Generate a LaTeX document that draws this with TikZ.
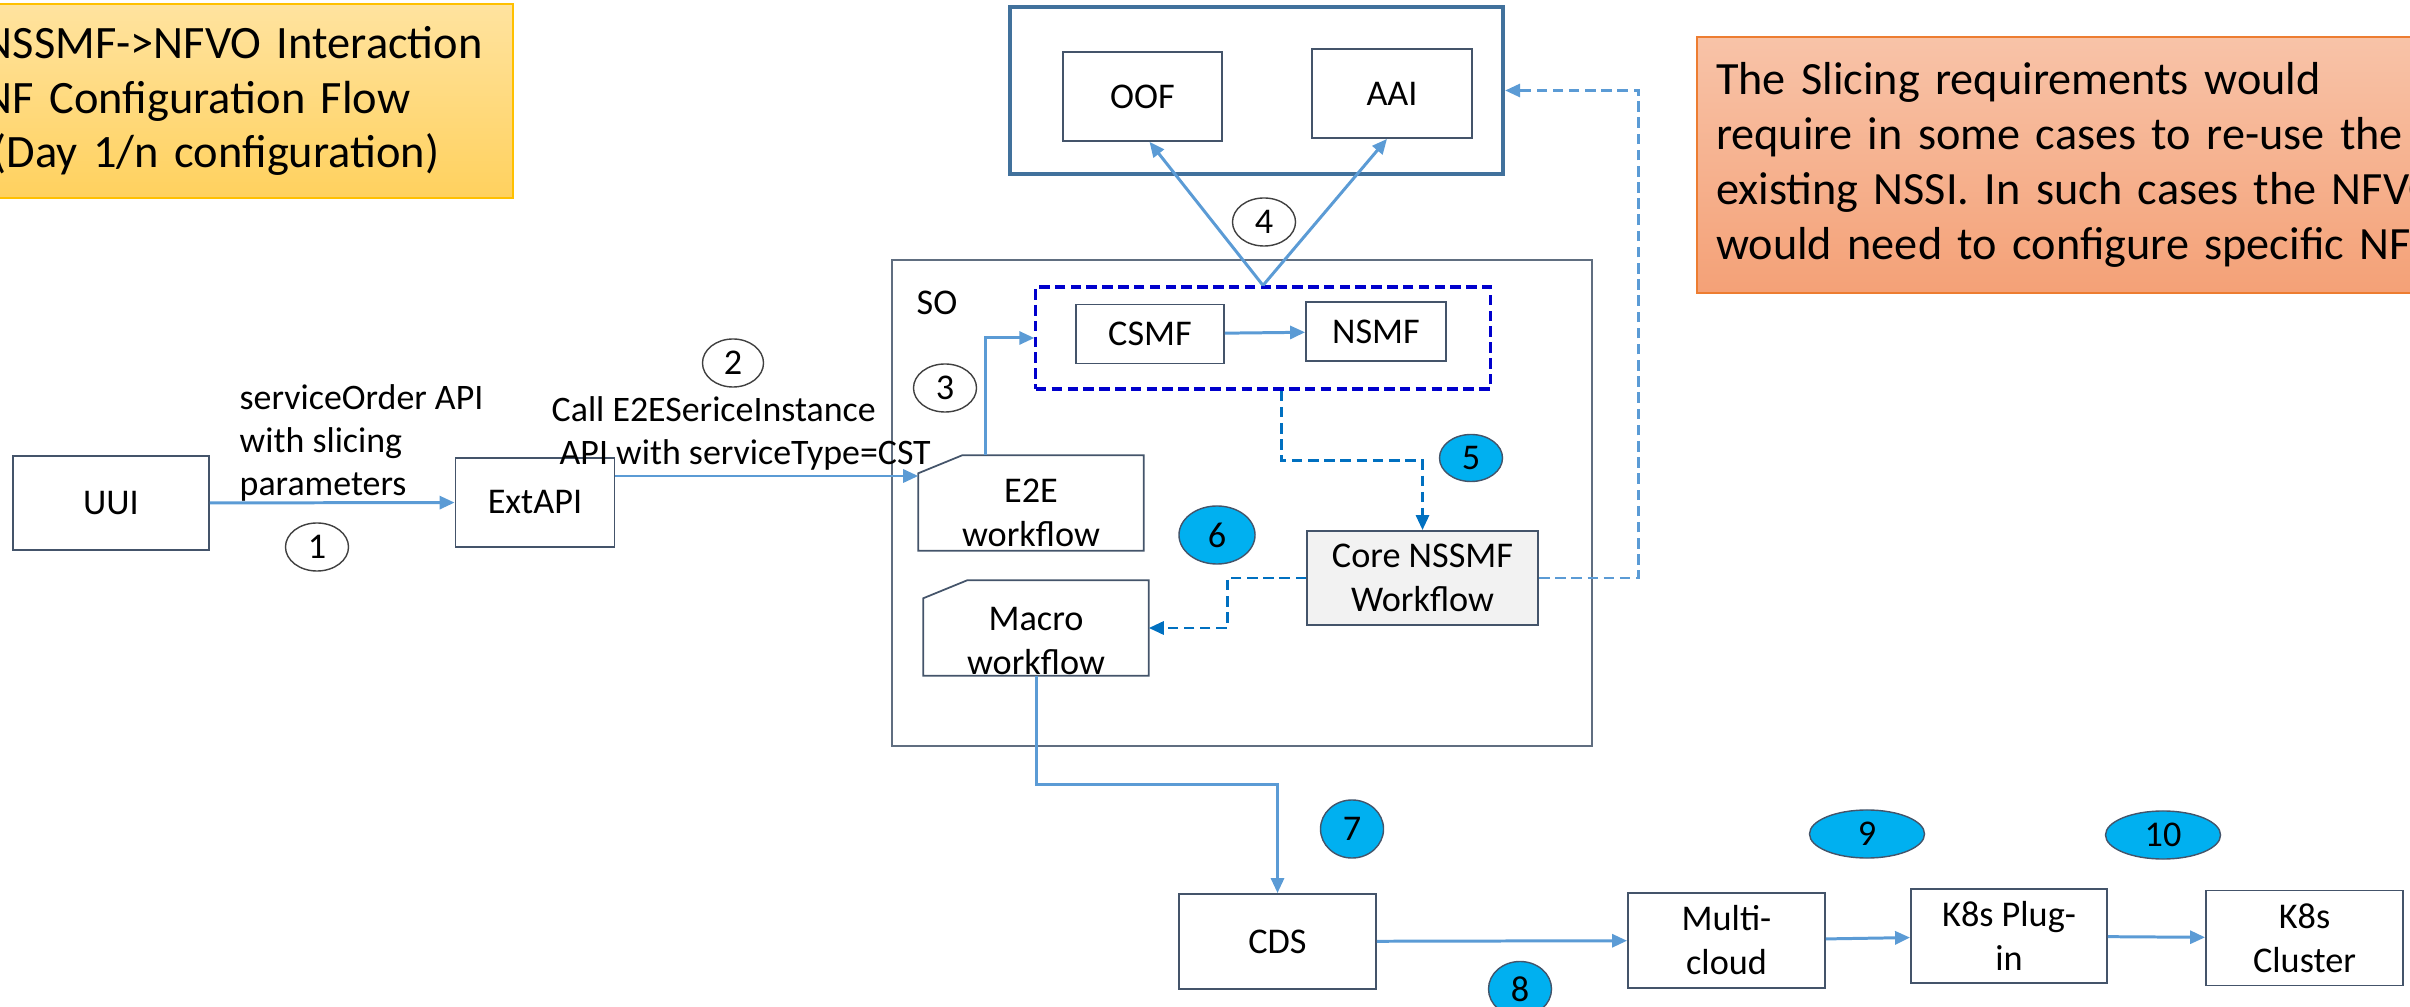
\documentclass[tikz,border=0pt]{standalone}
\usepackage{fontspec}
\setmainfont{Carlito}
\usepackage{tikz}
\usetikzlibrary{shapes.geometric, arrows.meta, calc}
\usepackage{xcolor}

\definecolor{flowblue}{HTML}{5B9BD5}
\definecolor{stepblue}{HTML}{0070C0}
\definecolor{groupblue}{HTML}{0000CC}
\definecolor{frameblue}{HTML}{41719C}
\definecolor{boxline}{HTML}{44546A}
\definecolor{stepcyan}{HTML}{00B0F0}
\definecolor{titletop}{HTML}{FFE39F}
\definecolor{titlebot}{HTML}{FFD15E}
\definecolor{titleline}{HTML}{FFC000}
\definecolor{notetop}{HTML}{F8C3A8}
\definecolor{notebot}{HTML}{F4A177}
\definecolor{noteline}{HTML}{ED7D31}

\begin{document}
\begin{tikzpicture}[
    x=0.01cm, y=-0.01cm,
    every node/.style={font=\fontsize{10.3}{12.5}\selectfont},
    box/.style={rectangle, draw=boxline, line width=0.5pt, minimum width=1.97cm, minimum height=0.95cm, align=center, inner sep=0pt},
    smallbox/.style={box, minimum height=0.59cm},
    card/.style={rectangle, minimum width=2.24cm, minimum height=0.94cm, inner sep=0pt},
    cardline/.style={draw=boxline, line width=0.5pt},
    cardtext/.style={align=center, inner sep=0pt},
    lbl/.style={font=\fontsize{10.2}{12.2}\selectfont, align=left, anchor=west, inner sep=0pt},
    stepnum/.style={ellipse, draw=black!75, line width=0.4pt, minimum width=0.63cm, minimum height=0.48cm, inner sep=0pt},
    stepdot/.style={stepnum, fill=stepcyan, draw=boxline},
    flow/.style={draw=flowblue, line width=0.85pt, -{Triangle[length=0.15cm, width=0.13cm]}},
    dflow/.style={flow, draw=stepblue, dashed, dash pattern=on 3pt off 1.6pt},
    lflow/.style={flow, dashed, dash pattern=on 3pt off 1.6pt}
]
    \useasboundingbox (0,0) rectangle (2410,1007);

    % Title and note
    \node[rectangle, draw=titleline, line width=0.6pt, top color=titletop, bottom color=titlebot,
          minimum width=5.3cm, minimum height=1.94cm, text width=5.3cm, inner xsep=0pt, align=left,
          font=\fontsize{13.2}{15.4}\selectfont] (title) at (248,101)
          {NSSMF->NFVO Interaction\\NF Configuration Flow\\\hspace*{0.1cm}(Day 1/n configuration)};
    \node[rectangle, draw=noteline, line width=0.6pt, top color=notetop, bottom color=notebot,
          minimum height=2.55cm, text width=8.4cm, inner xsep=0.19cm, align=left, anchor=west,
          font=\fontsize{13.15}{15.6}\selectfont] (note) at (1696,165)
          {The Slicing requirements would\\require in some cases to re-use the\\existing NSSI. In such cases the NFVO\\would need to configure specific NF};

    % Containers
    \node[rectangle, draw=frameblue, line width=1.1pt, minimum width=4.93cm, minimum height=1.67cm] (ext) at (1256.5,90.5) {};
    \node[rectangle, draw=boxline!85, line width=0.5pt, minimum width=7cm, minimum height=4.86cm] (so) at (1242,503) {};
    \node (solbl) at (937,303) {SO};
    \node[rectangle, draw=groupblue, line width=0.9pt, dashed, dash pattern=on 3pt off 1.5pt,
          minimum width=4.54cm, minimum height=1.02cm] (nsgrp) at (1263,338) {};

    % Boxes
    \node[box, minimum width=1.59cm, minimum height=0.89cm] (oof) at (1142.5,96.5) {OOF};
    \node[box, minimum width=1.6cm, minimum height=0.89cm] (aai) at (1392,93.5) {AAI};
    \node[smallbox, minimum width=1.48cm] (csmf) at (1150,334) {CSMF};
    \node[smallbox, minimum width=1.4cm] (nsmf) at (1376,331.5) {NSMF};
    \node[box, fill=black!5, minimum width=2.31cm, minimum height=0.94cm] (core) at (1422.5,578) {Core NSSMF\\Workflow};
    \node[box, minimum width=1.96cm, minimum height=0.94cm] (uui) at (111,503) {UUI};
    \node[box, minimum width=1.59cm, minimum height=0.89cm] (extapi) at (535,502.5) {ExtAPI};
    \node[card] (e2e) at (1031,503) {};
    \node[card] (macro) at (1036,628) {};
    \draw[cardline] ([xshift=0.44cm]e2e.north west) -- (e2e.north east) -- (e2e.south east) -- (e2e.south west) -- ([yshift=-0.18cm]e2e.north west) -- cycle;
    \draw[cardline] ([xshift=0.44cm]macro.north west) -- (macro.north east) -- (macro.south east) -- (macro.south west) -- ([yshift=-0.18cm]macro.north west) -- cycle;
    \node[cardtext] (e2etxt) at ([yshift=-0.1cm]e2e.center) {E2E\\workflow};
    \node[cardtext] (macrotxt) at ([yshift=-0.13cm]macro.center) {Macro\\workflow};
    \node[box] (cds) at (1277.5,941.5) {CDS};
    \node[box] (mcloud) at (1726.5,940.5) {Multi-\\cloud};
    \node[box, minimum width=1.96cm, minimum height=0.94cm] (k8plug) at (2009,936) {K8s Plug-\\in};
    \node[box] (k8clus) at (2304.5,938) {K8s\\Cluster};

    % Step numbers
    \node[stepnum] (n1) at (317,547) {1};
    \node[stepnum, minimum width=0.61cm] (n2) at (733,363) {2};
    \node[stepnum] (n3) at (945,388) {3};
    \node[stepnum] (n4) at (1264,222) {4};
    \node[stepdot, minimum height=0.47cm] (n5) at (1471,458) {5};
    \node[stepdot, minimum width=0.76cm, minimum height=0.58cm] (n6) at (1217,535) {6};
    \node[stepdot, minimum height=0.58cm] (n7) at (1352,829) {7};
    \node[stepdot, minimum height=0.55cm] (n8) at (1520,989) {8};
    \node[stepdot, minimum width=1.15cm] (n9) at (1867,834) {9};
    \node[stepdot, minimum width=1.15cm] (n10) at (2163,835) {10};

    % Labels
    \node[lbl] (lab1) at (239,443) {serviceOrder API\\with slicing\\parameters};
    \node[lbl] (lab2) at (551,433) {Call E2ESericeInstance\\\hspace*{0.08cm}API with serviceType=CST};

    % Flows
    \draw[flow] (uui) -- (extapi);
    \draw[flow] (extapi.east |- 0,476) -- (e2e.west |- 0,476);
    \draw[flow] ([xshift=-0.45cm]e2e.north) |- (nsgrp.west);
    \draw[flow] (csmf) -- (nsmf);
    \draw[flow] (nsgrp.north) -- ([xshift=0.07cm]oof.south);
    \draw[flow] (nsgrp.north) -- ([xshift=-0.05cm]aai.south);
    \draw[dflow] ([xshift=0.18cm]nsgrp.south) -- ++(0,70) -| (core.north);
    \draw[dflow] (core.west) -- ++(-79,0) |- (macro.east);
    \draw[lflow] (core.east) -- ++(100,0) |- (ext.east);
    \draw[flow] (macro.south) -- ++(0,109) -| (cds.north);
    \draw[flow] (cds) -- (mcloud);
    \draw[flow] (mcloud) -- (k8plug);
    \draw[flow] (k8plug) -- (k8clus);
\end{tikzpicture}
\end{document}
